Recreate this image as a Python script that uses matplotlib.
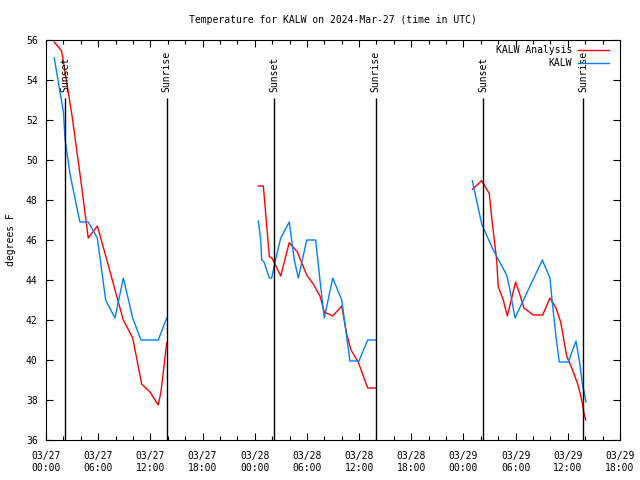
import matplotlib
matplotlib.use('Agg')
import matplotlib.pyplot as plt
import matplotlib.dates as mdates
import pandas as pd

# hours after 2024-03-27 00:00 UTC, temperatures in degrees F
red_h1 = [0.95, 1.8, 3.0, 4.0, 4.86, 5.9, 7.0, 8.0, 8.89, 9.97, 11.0, 11.96, 12.9, 13.2, 13.88]
red_t1 = [55.9, 55.45, 52.2, 49.0, 46.1, 46.7, 45.0, 43.4, 42.0, 41.1, 38.8, 38.4, 37.75, 38.35, 40.85]
blue_h1 = [0.95, 2.0, 2.2, 2.8, 3.9, 4.86, 5.9, 6.86, 7.93, 8.89, 9.97, 10.92, 12.91, 13.88]
blue_t1 = [55.1, 52.4, 51.0, 49.2, 46.9, 46.9, 46.1, 43.0, 42.1, 44.1, 42.1, 41.0, 41.0, 42.1]

red_h2 = [24.41, 24.99, 25.68, 26.02, 26.99, 27.97, 28.9, 29.98, 30.73, 31.5, 32.0, 32.97,
          34.0, 34.57, 35.07, 35.9, 36.99, 37.94]
red_t2 = [48.7, 48.7, 45.17, 45.08, 44.2, 45.87, 45.4, 44.25, 43.8, 43.2, 42.4, 42.2,
          42.7, 41.3, 40.5, 39.9, 38.6, 38.6]
blue_h2 = [24.41, 24.69, 24.8, 25.07, 25.68, 25.95, 26.33, 26.99, 27.97, 28.55, 29.01, 29.98,
           31.01, 31.5, 32.0, 32.97, 34.0, 34.95, 35.99, 36.99, 37.94]
blue_t2 = [46.95, 46.0, 45.0, 44.9, 44.1, 44.1, 44.9, 46.1, 46.9, 45.0, 44.1, 46.0,
           46.0, 44.0, 42.1, 44.1, 43.0, 39.95, 39.95, 41.0, 41.0]

red_h3 = [49.02, 50.1, 50.59, 50.97, 51.25, 51.55, 51.82, 52.0, 52.58, 53.04, 54.0, 54.5, 54.96,
          56.03, 57.11, 57.95, 58.64, 59.18, 59.87, 60.45, 61.14, 61.6, 61.9, 62.06]
red_t3 = [48.53, 48.97, 48.6, 48.33, 47.1, 46.0, 45.0, 43.67, 43.0, 42.2, 43.9, 43.25, 42.6,
          42.25, 42.25, 43.1, 42.6, 41.9, 40.2, 39.6, 38.8, 38.0, 37.25, 37.0]
blue_h3 = [49.02, 49.2, 50.1, 50.29, 51.43, 52.97, 53.27, 53.93, 57.07, 57.95, 58.22, 58.64,
           59.02, 60.05, 60.94, 61.4, 61.71, 61.86, 62.09]
blue_t3 = [48.97, 48.6, 46.8, 46.6, 45.5, 44.25, 43.67, 42.1, 45.0, 44.1, 42.85, 41.17,
           39.9, 39.9, 40.95, 39.75, 38.67, 38.45, 37.9]

sunset_h = [2.2, 26.25, 50.3]
sunrise_h = [13.88, 37.9, 61.8]

base = pd.Timestamp('2024-03-27 00:00')


def to_time(hours):
    return [base + pd.Timedelta(hours=h) for h in hours]


plt.rcParams['font.family'] = 'DejaVu Sans Mono'
plt.rcParams['font.size'] = 7

fig = plt.figure(figsize=(6.4, 4.8), dpi=100)
ax = fig.add_axes([46 / 640, 40 / 480, 574 / 640, 400 / 480])

red = '#ff0000'
blue = '#0080ff'
first = True
for rh, rt, bh, bt in [(red_h1, red_t1, blue_h1, blue_t1),
                       (red_h2, red_t2, blue_h2, blue_t2),
                       (red_h3, red_t3, blue_h3, blue_t3)]:
    ax.plot(to_time(rh), rt, color=red, lw=1.0, label='KALW Analysis' if first else None)
    ax.plot(to_time(bh), bt, color=blue, lw=1.0, label='KALW' if first else None)
    first = False

# sunset / sunrise markers
for hs, name in [(sunset_h, 'Sunset'), (sunrise_h, 'Sunrise')]:
    for t in to_time(hs):
        ax.vlines(t, 36, 53.1, color='black', lw=1.0)
        ax.text(t, 53.4, name, rotation=90, ha='center', va='bottom', fontsize=7)

ax.set_xlim(base, base + pd.Timedelta(hours=66))
ax.set_ylim(36, 56)
ax.set_yticks(range(36, 57, 2))
ax.xaxis.set_major_locator(mdates.HourLocator(byhour=[0, 6, 12, 18]))
ax.xaxis.set_minor_locator(mdates.HourLocator(interval=2))
ax.xaxis.set_major_formatter(mdates.DateFormatter('%m/%d\n%H:%M'))
ax.tick_params(which='both', direction='in', top=True, right=True, width=0.8)
ax.tick_params(which='major', length=5, pad=6)
ax.tick_params(axis='x', which='major', pad=8)
ax.tick_params(which='minor', length=3)
for s in ax.spines.values():
    s.set_linewidth(0.8)

ax.set_ylabel('degrees F', labelpad=7)
ax.set_title('Temperature for KALW on 2024-Mar-27 (time in UTC)', fontsize=7, pad=12)
ax.legend(loc='upper right', bbox_to_anchor=(0.991, 1.002), frameon=False, markerfirst=False,
          handlelength=3.2, handletextpad=0.6, labelspacing=0.3, borderaxespad=0.2, fontsize=7)

fig.savefig('out.png', dpi=100)
plt.close(fig)
